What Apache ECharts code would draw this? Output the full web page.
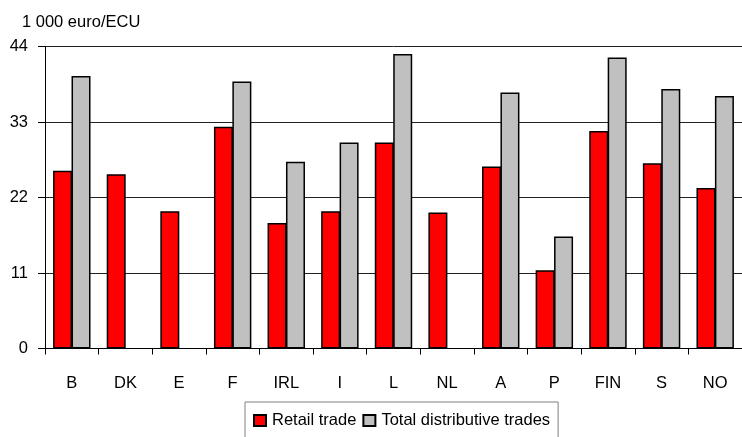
<!DOCTYPE html>
<html>
<head>
<meta charset="utf-8">
<script src="https://cdn.jsdelivr.net/npm/echarts@6/dist/echarts.min.js"></script>
<style>
  html, body { margin: 0; padding: 0; background: #fff; }
  #chart { width: 742px; height: 437px; }
</style>
</head>
<body>
<div id="chart"></div>
<script>
// Countries along the category axis
const countries = ['B', 'DK', 'E', 'F', 'IRL', 'I', 'L', 'NL', 'A', 'P', 'FIN', 'S', 'NO'];
// Apparent labour productivity, 1 000 euro/ECU per person employed
const retailTrade = [25.9, 25.4, 20.0, 32.3, 18.3, 20.0, 30.0, 19.8, 26.5, 11.4, 31.7, 27.0, 23.4];
const totalDistributive = [39.7, null, null, 38.9, 27.2, 30.0, 42.9, null, 37.3, 16.3, 42.4, 37.8, 36.8];
const yTicks = { min: 0, max: 44, step: 11 };

const font = '"Liberation Sans", Arial, sans-serif';
const fontSize = 16.5;
const chart = echarts.init(document.getElementById('chart'), null, { renderer: 'canvas' });

chart.setOption({
  animation: false,
  backgroundColor: '#ffffff',
  title: {
    text: '1 000 euro/ECU',
    left: 17,
    top: 9,
    textStyle: { fontFamily: font, fontSize: fontSize, fontWeight: 'normal', color: '#000' }
  },
  grid: { left: 45, right: 0, top: 46.5, bottom: 88.5, containLabel: false },
  legend: {
    left: 245,
    top: 402,
    padding: [10, 8, 14, 8],
    borderColor: '#808080',
    borderWidth: 1,
    icon: 'rect',
    itemWidth: 12,
    itemHeight: 11,
    itemGap: 6,
    textStyle: { fontFamily: font, fontSize: fontSize, color: '#000', padding: [0, 0, 0, 1] },
    data: ['Retail trade', 'Total distributive trades']
  },
  xAxis: {
    type: 'category',
    data: countries,
    axisLine: { lineStyle: { color: '#000', width: 1 } },
    axisTick: { show: true, length: 6, interval: 0, lineStyle: { color: '#000' } },
    axisLabel: { fontFamily: font, fontSize: fontSize, color: '#000', margin: 26, interval: 0 }
  },
  yAxis: {
    type: 'value',
    min: yTicks.min,
    max: yTicks.max,
    interval: yTicks.step,
    axisLine: { show: true, lineStyle: { color: '#000', width: 1 } },
    axisTick: { show: true, length: 7, lineStyle: { color: '#000' } },
    axisLabel: { fontFamily: font, fontSize: fontSize, color: '#000', margin: 17 },
    splitLine: { show: true, lineStyle: { color: '#222', width: 1 } }
  },
  series: [
    {
      name: 'Retail trade',
      type: 'bar',
      data: retailTrade,
      barWidth: 19,
      barGap: '-3%',
      itemStyle: { color: '#ff0000', borderColor: '#000', borderWidth: 1.5 }
    },
    {
      name: 'Total distributive trades',
      type: 'bar',
      data: totalDistributive,
      barWidth: 19,
      itemStyle: { color: '#c0c0c0', borderColor: '#000', borderWidth: 1.5 }
    }
  ]
});
</script>
</body>
</html>
